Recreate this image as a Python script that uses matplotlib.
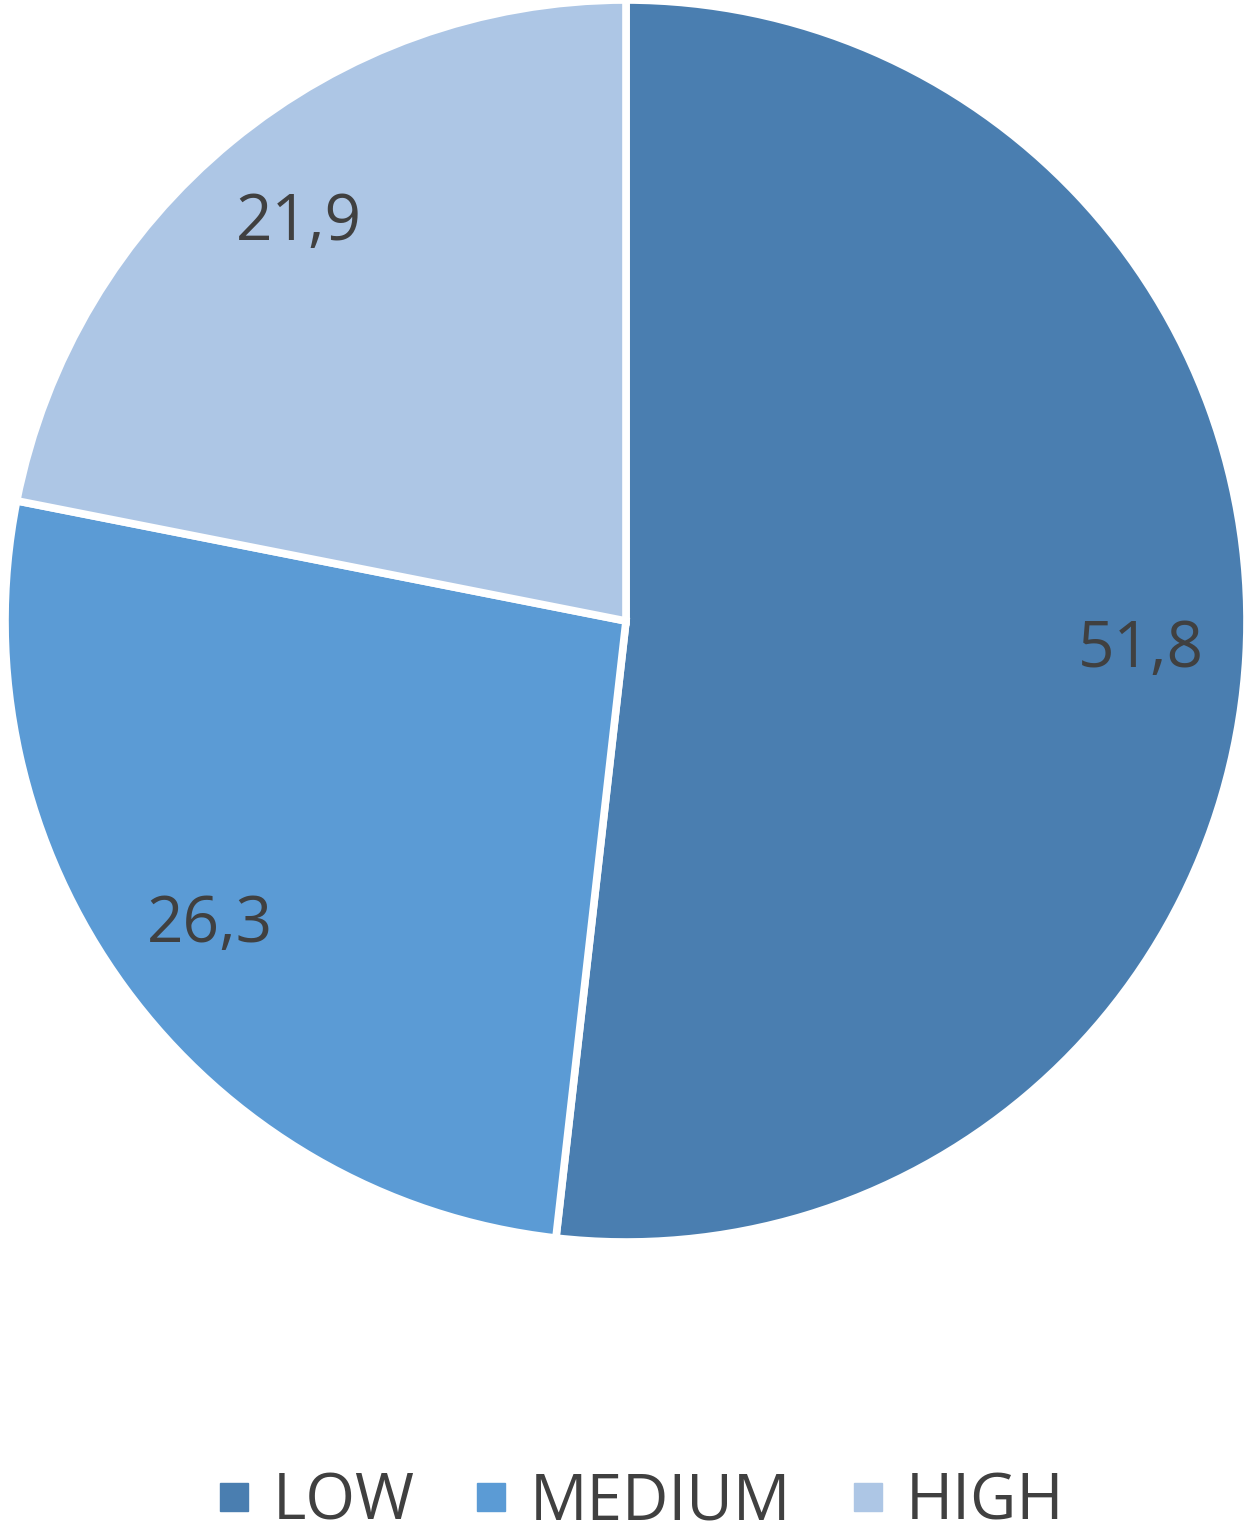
import matplotlib.pyplot as plt
from matplotlib.lines import Line2D

plt.rcParams['font.family'] = ['Open Sans', 'DejaVu Sans']

categories = ['LOW', 'MEDIUM', 'HIGH']
values = [51.8, 26.3, 21.9]
value_labels = ['51,8', '26,3', '21,9']
colors = ['#4A7EB0', '#5B9BD5', '#ADC6E5']
text_color = '#404040'

fig = plt.figure(figsize=(12.5, 15.36), dpi=100)
ax = fig.add_axes([0.004, 0.1914, 0.9936, 0.8086])

wedges, texts = ax.pie(values, colors=colors, startangle=90, counterclock=False,
                       labels=value_labels, labeldistance=0.83,
                       wedgeprops={'edgecolor': 'white', 'linewidth': 5.5},
                       textprops={'color': text_color, 'fontsize': 46,
                                  'ha': 'center', 'va': 'center'})
ax.set_xlim(-1, 1)
ax.set_ylim(-1, 1)
ax.set_aspect('equal')
ax.axis('off')

handles = [Line2D([], [], marker='s', linestyle='none', markersize=20,
                  markerfacecolor=c, markeredgecolor=c) for c in colors]
fig.legend(handles, categories, loc='center', bbox_to_anchor=(0.512, 0.022),
           ncol=3, frameon=False, fontsize=46, labelcolor=text_color,
           handlelength=0.6, handletextpad=0.3, columnspacing=0.9)

fig.savefig('out.png', dpi=100)
